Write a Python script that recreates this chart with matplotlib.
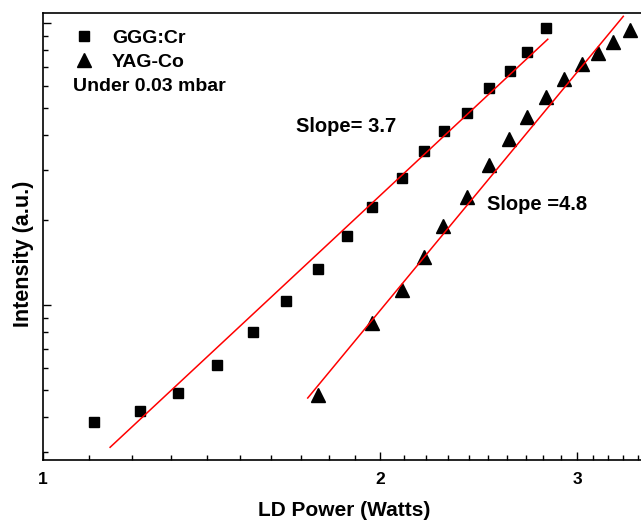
import matplotlib.pyplot as plt
import matplotlib.ticker as ticker
import numpy as np

plt.rcParams['font.family'] = ['Liberation Sans', 'DejaVu Sans']
plt.rcParams['font.weight'] = 'bold'

# LD power (W) and intensity (a.u.) for the two crystals
ggg_power = [1.111, 1.221, 1.320, 1.430, 1.540, 1.648, 1.761, 1.869, 1.967,
             2.092, 2.190, 2.281, 2.391, 2.502, 2.613, 2.706, 2.814]
ggg_intensity = [0.385, 0.421, 0.488, 0.613, 0.802, 1.033, 1.342, 1.757, 2.226,
                 2.821, 3.517, 4.140, 4.796, 5.882, 6.757, 7.892, 9.600]

yag_power = [1.761, 1.967, 2.092, 2.190, 2.277, 2.391, 2.502, 2.608, 2.706,
             2.814, 2.920, 3.030, 3.131, 3.229, 3.344]
yag_intensity = [0.480, 0.863, 1.130, 1.480, 1.906, 2.415, 3.136, 3.879, 4.642,
                 5.465, 6.331, 7.154, 7.827, 8.564, 9.445]

# power-law fits: slope, anchor point and power range
ggg_slope = 3.7
ggg_anchor = (1.800, 1.652)
ggg_range = (1.148, 2.825)

yag_slope = 4.8
yag_anchor = (2.384, 2.217)
yag_range = (1.724, 3.30)


def fit_line(slope, anchor, xr):
    x = np.array(xr)
    y = anchor[1] * (x / anchor[0]) ** slope
    return x, y


fig = plt.figure(figsize=(6.41, 5.21), dpi=100)
ax = fig.add_axes([0.0671, 0.1171, 0.939, 0.858])

ax.plot(ggg_power, ggg_intensity, 's', color='black', ms=7.2, label='GGG:Cr')
ax.plot(yag_power, yag_intensity, '^', color='black', ms=9.5, label='YAG-Co')

x, y = fit_line(ggg_slope, ggg_anchor, ggg_range)
ax.plot(x, y, color='red', lw=1.1)
x, y = fit_line(yag_slope, yag_anchor, yag_range)
ax.plot(x, y, color='red', lw=1.1)

ax.set_xscale('log')
ax.set_yscale('log')
ax.set_xlim(1, 3.45)
ax.set_ylim(0.282, 10.85)

ax.xaxis.set_major_locator(ticker.FixedLocator([1, 2, 3]))
ax.xaxis.set_major_formatter(ticker.FixedFormatter(['1', '2', '3']))
ax.xaxis.set_minor_locator(ticker.MultipleLocator(0.1))
ax.xaxis.set_minor_formatter(ticker.NullFormatter())
ax.yaxis.set_major_formatter(ticker.NullFormatter())
ax.yaxis.set_minor_formatter(ticker.NullFormatter())

ax.tick_params(which='both', direction='in', top=False, right=False,
               labelsize=12.5, width=1.0, pad=9)
ax.tick_params(which='major', length=6)
ax.tick_params(which='minor', length=3.5)
for s in ax.spines.values():
    s.set_linewidth(1.2)

ax.set_xlabel('LD Power (Watts)', fontsize=15, fontweight='bold', labelpad=10)
ax.set_ylabel('Intensity (a.u.)', fontsize=15.5, fontweight='bold')
ax.yaxis.set_label_coords(-0.015, 0.461)

ax.legend(loc='upper left', bbox_to_anchor=(0.052, 0.964), frameon=False,
          fontsize=14, handlelength=1.0, handletextpad=0.94, labelspacing=0.36,
          borderpad=0, borderaxespad=0)
ax.text(0.0498, 0.835, 'Under 0.03 mbar', transform=ax.transAxes,
        fontsize=14, fontweight='bold', va='center', ha='left')

ax.text(1.683, 4.28, 'Slope= 3.7', fontsize=14.5, fontweight='bold',
        va='center', ha='left')
ax.text(2.493, 2.28, 'Slope =4.8', fontsize=14.5, fontweight='bold',
        va='center', ha='left')

fig.savefig('out.png', dpi=100)
